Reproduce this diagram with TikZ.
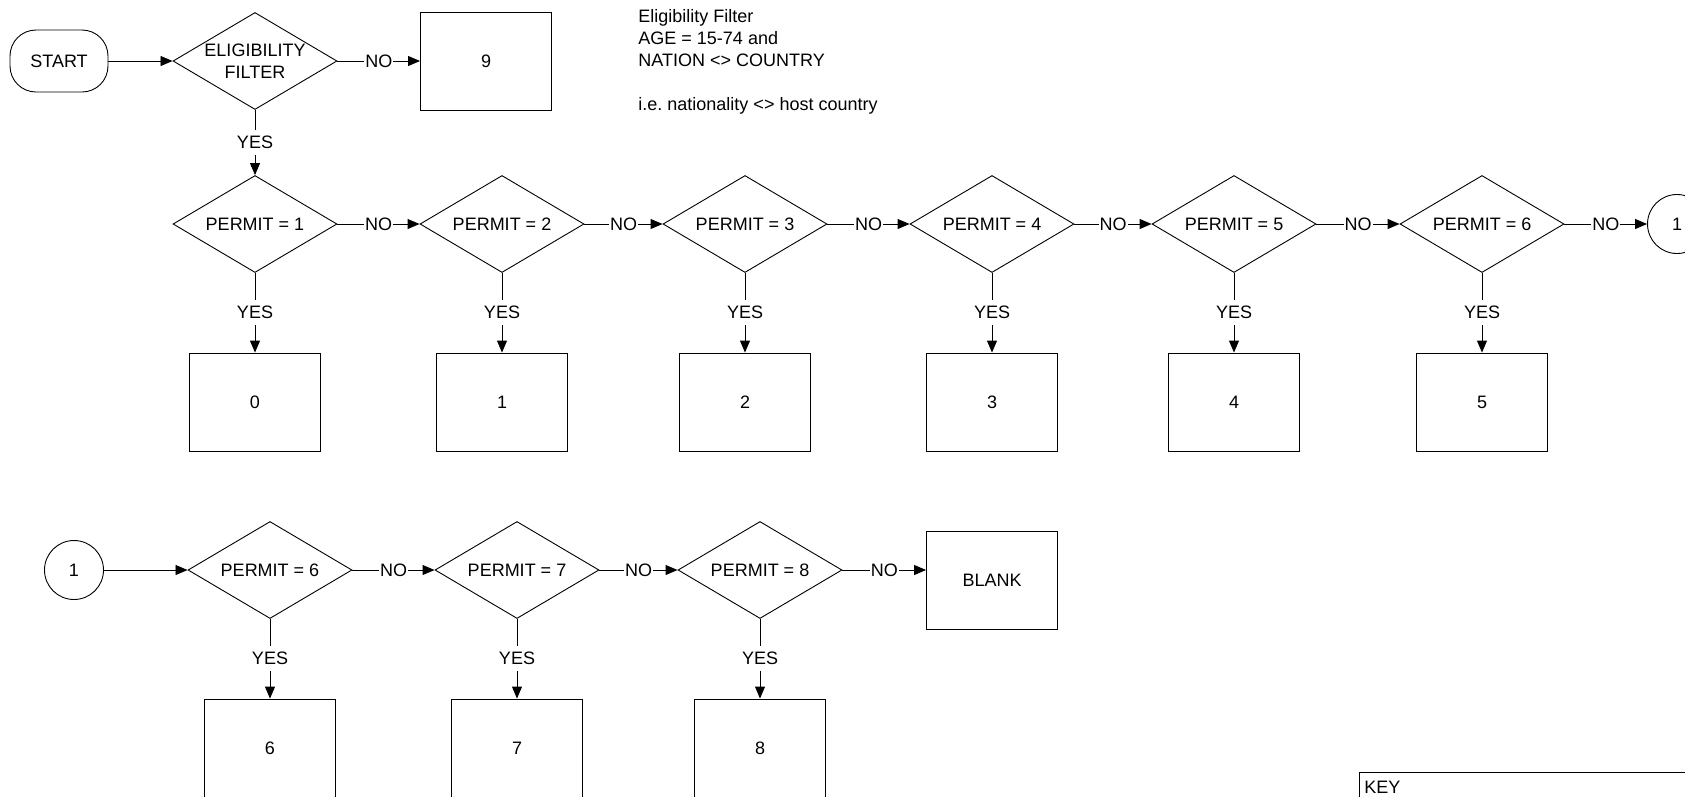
\documentclass[tikz,border=0pt]{standalone}
\usepackage{fontspec}
\setmainfont{Liberation Sans}
\usetikzlibrary{shapes.geometric,arrows.meta}
\begin{document}
\begin{tikzpicture}[x=1pt,y=-1pt, font=\fontsize{18}{22}\selectfont, line width=0.9pt,
  dec/.style={draw, diamond, minimum width=164pt, minimum height=97pt, inner sep=0pt},
  outbox/.style={draw, rectangle, minimum width=131pt, minimum height=98pt, inner sep=0pt},
  conn/.style={draw, circle, minimum size=59pt, inner sep=0pt},
  arr/.style={-{Triangle[length=12pt,width=10pt]}},
  lbl/.style={fill=white, inner xsep=1pt, inner ysep=6pt},
  plain/.style={anchor=base west, inner sep=0pt}]
\useasboundingbox (0,0) rectangle (1685,796);

% top part
\node[draw, rounded corners=26pt, minimum width=98pt, minimum height=62pt, inner sep=0pt] (start) at (59,61) {START};
\node[dec] (elig) at (255,61) {};
\node[align=center, inner sep=0pt] (eligtxt) at (elig.center) {ELIGIBILITY\\FILTER};
\node[outbox] (b9) at (486,61) {9};
\draw[arr] (start) -- (elig);
\draw[arr] (elig) -- node[lbl]{NO} (b9);

% notes
\node[plain] (n1) at (638,22.5) {Eligibility Filter};
\node[plain] (n2) at (638,44.5) {AGE = 15-74 and};
\node[plain] (n3) at (638,66.5) {NATION <> COUNTRY};
\node[plain] (n4) at (638,110.5) {i.e.\ nationality <> host country};

% row 1
\foreach \i/\x in {1/255,2/502,3/745,4/992,5/1234,6/1482} {
  \node[dec, label=center:{PERMIT = \i}] (r\i) at (\x,224) {};
  \pgfmathtruncatemacro\k{\i-1}
  \node[outbox] (o\i) at (\x,402) {\k};
  \draw[arr] (r\i) -- node[lbl]{YES} (o\i);
}
\draw[arr] (elig) -- node[lbl]{YES} (r1);
\foreach \a/\b in {1/2,2/3,3/4,4/5,5/6}
  \draw[arr] (r\a) -- node[lbl]{NO} (r\b);
\node[conn] (c1) at (1677,224) {1};
\draw[arr] (r6) -- node[lbl]{NO} (c1);

% row 2
\node[conn] (c2) at (74,570) {1};
\foreach \i/\x in {6/270,7/517,8/760} {
  \node[dec, label=center:{PERMIT = \i}] (s\i) at (\x,570) {};
  \node[outbox] (p\i) at (\x,748) {\i};
  \draw[arr] (s\i) -- node[lbl]{YES} (p\i);
}
\draw[arr] (c2) -- (s6);
\draw[arr] (s6) -- node[lbl]{NO} (s7);
\draw[arr] (s7) -- node[lbl]{NO} (s8);
\node[outbox] (blank) at (992,580) {BLANK};
\draw[arr] (s8.east) -- node[lbl]{NO} (s8.east -| blank.west);

% key
\node[draw, anchor=north west, minimum width=400pt, minimum height=80pt, inner sep=0pt] (key) at (1359,772) {};
\node[anchor=west, inner sep=0pt] (keytxt) at (1364,787) {KEY};
\end{tikzpicture}
\end{document}
